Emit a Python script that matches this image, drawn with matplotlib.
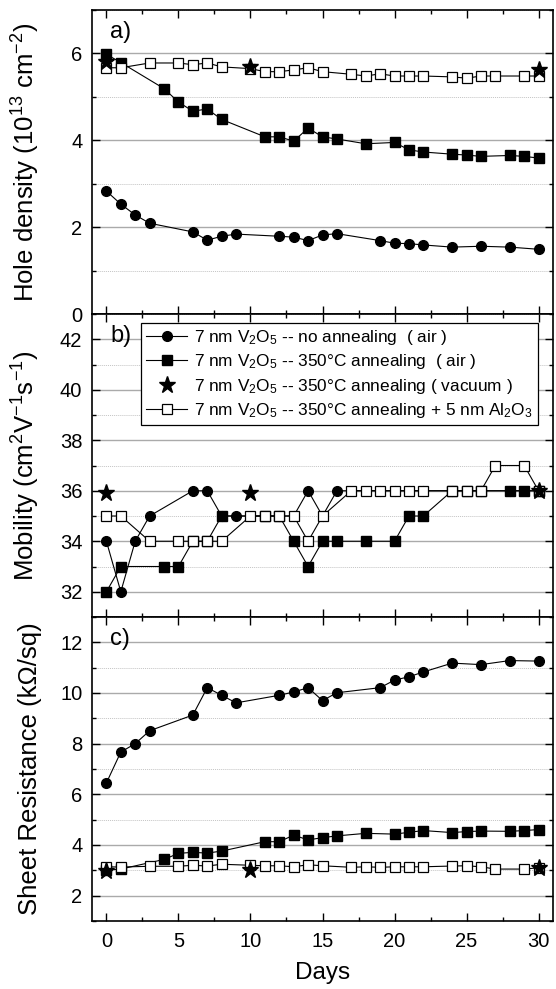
import numpy as np
import matplotlib
matplotlib.use('Agg')
import matplotlib.pyplot as plt
from matplotlib.ticker import MultipleLocator
from matplotlib.lines import Line2D

plt.rcParams['font.family'] = ['Liberation Sans', 'DejaVu Sans']
plt.rcParams['mathtext.fontset'] = 'custom'
plt.rcParams['mathtext.rm'] = 'Liberation Sans'
plt.rcParams['mathtext.it'] = 'Liberation Sans:italic'
plt.rcParams['mathtext.default'] = 'regular'

# days for each sample
days_noann = [0, 1, 2, 3, 6, 7, 8, 9, 12, 13, 14, 15, 16, 19, 20, 21, 22, 24, 26, 28, 30]
days_air = [0, 1, 4, 5, 6, 7, 8, 11, 12, 13, 14, 15, 16, 18, 20, 21, 22, 24, 25, 26, 28, 29, 30]
days_vac = [0, 10, 30]
days_al2o3 = [0, 1, 3, 5, 6, 7, 8, 10, 11, 12, 13, 14, 15, 17, 18, 19, 20, 21, 22, 24, 25, 26, 27, 29, 30]

# a) hole density (1e13 cm^-2)
p_noann = [2.83, 2.53, 2.28, 2.09, 1.89, 1.70, 1.79, 1.84, 1.79, 1.77, 1.69, 1.82, 1.85,
           1.69, 1.63, 1.62, 1.59, 1.54, 1.56, 1.54, 1.49]
p_air = [5.98, 5.79, 5.19, 4.88, 4.67, 4.72, 4.48, 4.08, 4.08, 3.98, 4.28, 4.08, 4.03,
         3.92, 3.95, 3.78, 3.73, 3.68, 3.66, 3.63, 3.65, 3.63, 3.59]
p_vac = [5.80, 5.69, 5.62]
p_al2o3 = [5.67, 5.67, 5.78, 5.78, 5.74, 5.78, 5.69, 5.65, 5.58, 5.58, 5.62, 5.67, 5.58,
           5.52, 5.48, 5.53, 5.48, 5.48, 5.48, 5.46, 5.43, 5.48, 5.48, 5.48, 5.48]

# b) mobility (cm2/Vs)
mu_noann = [34, 32, 34, 35, 36, 36, 35, 35, 35, 35, 36, 35, 36, 36, 36, 36, 36, 36, 36, 36, 36]
mu_air = [32, 33, 33, 33, 34, 34, 35, 35, 35, 34, 33, 34, 34, 34, 34, 35, 35, 36, 36, 36, 36, 36, 36]
mu_vac = [35.9, 35.93, 36]
mu_al2o3 = [35, 35, 34, 34, 34, 34, 34, 35, 35, 35, 35, 34, 35, 36, 36, 36, 36, 36, 36,
            36, 36, 36, 37, 37, 36]

# c) sheet resistance (kOhm/sq)
r_noann = [6.45, 7.67, 8.0, 8.51, 9.13, 10.21, 9.91, 9.61, 9.91, 10.04, 10.21, 9.70, 10.01,
           10.21, 10.51, 10.64, 10.83, 11.18, 11.12, 11.28, 11.26]
r_air = [3.01, 3.05, 3.43, 3.67, 3.71, 3.68, 3.76, 4.13, 4.13, 4.39, 4.20, 4.29, 4.36,
         4.46, 4.43, 4.50, 4.57, 4.49, 4.53, 4.55, 4.54, 4.57, 4.61]
r_vac = [2.97, 3.01, 3.09]
r_al2o3 = [3.14, 3.13, 3.16, 3.16, 3.20, 3.17, 3.24, 3.20, 3.18, 3.18, 3.14, 3.22, 3.18,
           3.12, 3.14, 3.12, 3.14, 3.14, 3.14, 3.17, 3.18, 3.14, 3.05, 3.05, 3.10]

labels = [r'7 nm V$_2$O$_5$ -- no annealing  ( air )',
          r'7 nm V$_2$O$_5$ -- 350°C annealing  ( air )',
          r'7 nm V$_2$O$_5$ -- 350°C annealing ( vacuum )',
          r'7 nm V$_2$O$_5$ -- 350°C annealing + 5 nm Al$_2$O$_3$']

fig = plt.figure(figsize=(5.56, 9.89), dpi=100)
left, width = 92 / 556, 461 / 556
ax_a = fig.add_axes([left, 1 - 314 / 989, width, 304 / 989])
ax_b = fig.add_axes([left, 1 - 617 / 989, width, 303 / 989])
ax_c = fig.add_axes([left, 1 - 921 / 989, width, 304 / 989])

panels = [
    (ax_a, p_noann, p_air, p_vac, p_al2o3, (0, 7), 'Hole density (10$^{13}$ cm$^{-2}$)', 'a)'),
    (ax_b, mu_noann, mu_air, mu_vac, mu_al2o3, (31, 43), 'Mobility (cm$^2$V$^{-1}$s$^{-1}$)', 'b)'),
    (ax_c, r_noann, r_air, r_vac, r_al2o3, (1, 13), 'Sheet Resistance (kΩ/sq)', 'c)'),
]

for ax, y1, y2, y3, y4, ylim, ylab, tag in panels:
    ax.plot(days_noann, y1, '-o', color='black', lw=0.8, ms=7, zorder=3)
    ax.plot(days_air, y2, '-s', color='black', lw=0.8, ms=6.5, zorder=4)
    ax.plot(days_al2o3, y4, '-s', color='black', mfc='white', mec='black', mew=0.9,
            lw=0.8, ms=6.5, zorder=5)
    ax.plot(days_vac, y3, '*', color='black', ms=12.5, zorder=6)

    ax.set_xlim(-1, 31)
    ax.set_ylim(*ylim)
    ax.xaxis.set_major_locator(MultipleLocator(5))
    ax.xaxis.set_minor_locator(MultipleLocator(2.5))
    ax.yaxis.set_major_locator(MultipleLocator(2))
    ax.yaxis.set_minor_locator(MultipleLocator(1))
    ax.grid(axis='y', which='major', color='#aaaaaa', lw=1.0, ls='-', zorder=0)
    ax.grid(axis='y', which='minor', color='#c4c4c4', lw=0.7, ls=(0, (1, 1)), zorder=0)
    ax.set_axisbelow(True)
    ax.tick_params(which='both', direction='in', top=True, right=True, labelsize=14.5)
    ax.tick_params(which='major', length=5.5, width=1.0)
    ax.tick_params(which='minor', length=3, width=1.0)
    ax.tick_params(axis='y', pad=7)
    for s in ax.spines.values():
        s.set_linewidth(1.2)
    ax.set_ylabel(ylab, fontsize=18.5)
    ax.yaxis.set_label_coords(-0.108, 0.5)
    ax.text(0.04, 0.965, tag, transform=ax.transAxes, fontsize=17, va='top', ha='left')
    if ax is not ax_c:
        ax.tick_params(axis='x', labelbottom=False)

ax_c.tick_params(axis='x', pad=8)
ax_c.set_xlabel('Days', fontsize=17.5, labelpad=8)

handles = [
    Line2D([], [], color='black', lw=0.8, marker='o', ms=7),
    Line2D([], [], color='black', lw=0.8, marker='s', ms=6.5),
    Line2D([], [], color='black', ls='none', marker='*', ms=12.5),
    Line2D([], [], color='black', lw=0.8, marker='s', ms=6.5, mfc='white', mew=0.9),
]
leg = ax_b.legend(handles, labels, loc='upper left', bbox_to_anchor=(0.106, 0.97),
                  borderaxespad=0, fontsize=12.4, frameon=True, fancybox=False,
                  edgecolor='black', framealpha=1, handlelength=2.4,
                  labelspacing=0.3, borderpad=0.3, handletextpad=0.4)
leg.get_frame().set_linewidth(0.9)
leg.set_zorder(10)

fig.savefig('out.png', dpi=100)
